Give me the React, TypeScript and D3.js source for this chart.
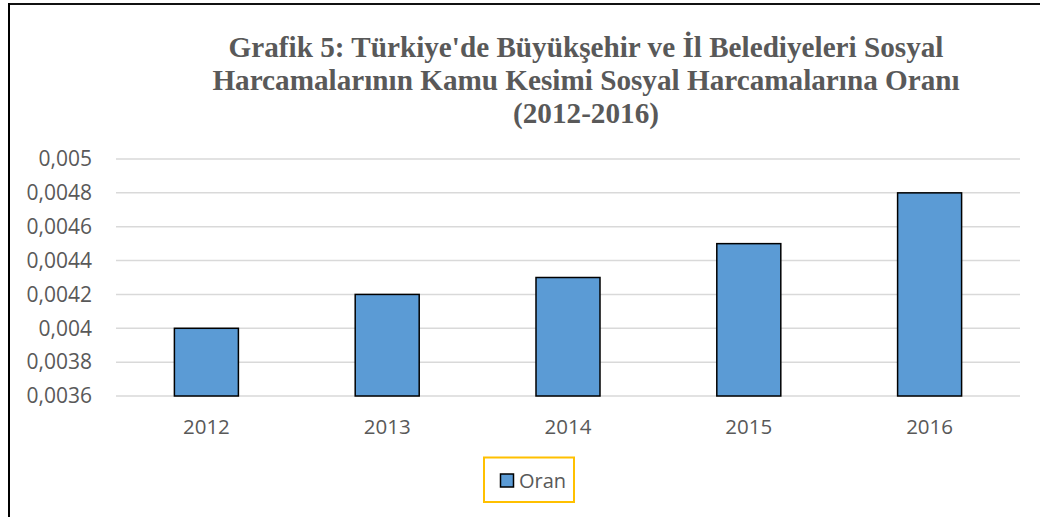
import React from "react";
import * as d3 from "d3";

const years = ["2012", "2013", "2014", "2015", "2016"];
const oran = [0.004, 0.0042, 0.0043, 0.0045, 0.0048];
const yTicks = [0.0036, 0.0038, 0.004, 0.0042, 0.0044, 0.0046, 0.0048, 0.005];
const yTickLabels = ["0,0036", "0,0038", "0,004", "0,0042", "0,0044", "0,0046", "0,0048", "0,005"];
const titleLines = [
  "Grafik 5: Türkiye'de Büyükşehir ve İl Belediyeleri Sosyal",
  "Harcamalarının Kamu Kesimi Sosyal Harcamalarına Oranı",
  "(2012-2016)",
];
const seriesName = "Oran";

const W = 1040;
const H = 517;
const plot = { left: 116, right: 1020, top: 159, bottom: 396 };

export default function App() {
  const x = d3
    .scaleBand<string>()
    .domain(years)
    .range([plot.left, plot.right])
    .paddingInner(0.646)
    .paddingOuter(0.323);
  const y = d3.scaleLinear().domain([0.0036, 0.005]).range([plot.bottom, plot.top]);
  const gray = "#595959";
  const sans = "'Open Sans', sans-serif";

  return (
    <div style={{ position: "absolute", left: 0, top: 0 }}>
      <svg width={W} height={H} style={{ display: "block" }}>
        <rect x={0} y={0} width={W} height={H} fill="#fff" />
        {/* outer frame */}
        <line x1={8} x2={W} y1={4} y2={4} stroke="#111" strokeWidth={2} />
        <line x1={9} x2={9} y1={3} y2={H} stroke="#000" strokeWidth={2} />

        {/* title */}
        {titleLines.map((t, i) => (
          <text
            key={i}
            x={586}
            y={57 + i * 33}
            textAnchor="middle"
            fontFamily="'Liberation Serif', 'Times New Roman', serif"
            fontWeight="bold"
            fontSize={29.2}
            fill={gray}
          >
            {t}
          </text>
        ))}

        {/* gridlines */}
        {yTicks.map((t, i) => (
          <line
            key={i}
            x1={plot.left}
            x2={plot.right}
            y1={y(t)}
            y2={y(t)}
            stroke="#d9d9d9"
            strokeWidth={1.5}
          />
        ))}

        {/* y labels */}
        {yTicks.map((t, i) => (
          <text
            key={i}
            x={92}
            y={y(t)}
            dy="0.35em"
            textAnchor="end"
            fontFamily={sans}
            fontSize={21}
            fill={gray}
          >
            {yTickLabels[i]}
          </text>
        ))}

        {/* bars */}
        {years.map((yr, i) => (
          <rect
            key={yr}
            x={x(yr)}
            y={y(oran[i])}
            width={x.bandwidth()}
            height={y(0.0036) - y(oran[i])}
            fill="#5B9BD5"
            stroke="#000"
            strokeWidth={1.5}
          />
        ))}

        {/* x labels */}
        {years.map((yr) => (
          <text
            key={yr}
            x={(x(yr) as number) + x.bandwidth() / 2}
            y={434}
            textAnchor="middle"
            fontFamily={sans}
            fontSize={20.5}
            fill={gray}
          >
            {yr}
          </text>
        ))}

        {/* legend */}
        <rect x={484} y={457.5} width={90} height={44.5} fill="none" stroke="#FFC000" strokeWidth={2} />
        <rect x={500.5} y={474} width={13} height={13} fill="#5B9BD5" stroke="#000" strokeWidth={1.5} />
        <text x={519} y={488} fontFamily={sans} fontSize={20} fill={gray}>
          {seriesName}
        </text>
      </svg>
    </div>
  );
}
